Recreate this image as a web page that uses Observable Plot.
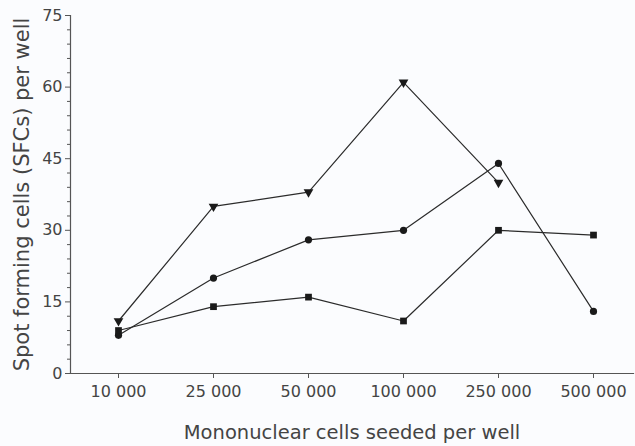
<!DOCTYPE html>
<html>
<head>
<meta charset="utf-8">
<script src="https://cdn.jsdelivr.net/npm/d3@7"></script>
<script src="https://cdn.jsdelivr.net/npm/@observablehq/plot@0.6"></script>
<style>
  html, body { margin: 0; padding: 0; background: #fbfcfe; }
</style>
</head>
<body>
<div id="chart"></div>
<script>
const categories = ["10 000", "25 000", "50 000", "100 000", "250 000", "500 000"];
const triangleValues = [11, 35, 38, 61, 40, null];
const circleValues = [8, 20, 28, 30, 44, 13];
const squareValues = [9, 14, 16, 11, 30, 29];
const majorTicks = [0, 15, 30, 45, 60, 75];
const xLabel = "Mononuclear cells seeded per well";
const yLabel = "Spot forming cells (SFCs) per well";

function rows(values, series) {
  return categories.map((c, i) => ({cat: c, v: values[i], series})).filter(d => d.v != null);
}
const tri = rows(triangleValues, "triangle");
const cir = rows(circleValues, "circle");
const sq = rows(squareValues, "square");
const minorTicks = d3.range(0, 76, 3).filter(t => !majorTicks.includes(t));

const ink = "#2b2b2b";
const axisInk = "#555";
const chart = Plot.plot({
  width: 635,
  height: 446,
  marginLeft: 70,
  marginTop: 15,
  marginBottom: 73,
  marginRight: 2,
  style: {background: "#fbfcfe", fontFamily: "DejaVu Sans, Verdana, sans-serif", fontSize: "16px", color: "#333"},
  x: {type: "point", domain: categories, range: [117, 593], padding: 0},
  y: {domain: [0, 75]},
  marks: [
    Plot.axisY(minorTicks, {tickSize: 3, text: null, label: null, stroke: axisInk}),
    Plot.axisY(majorTicks, {tickSize: 5, tickPadding: 3, fontSize: 16, stroke: axisInk, fill: "#444",
      label: null}),
    Plot.axisY({ticks: [], label: yLabel, labelAnchor: "center", labelArrow: "none", labelOffset: 56,
      fontSize: 21, fill: "#444"}),
    Plot.axisX({tickSize: 5, tickPadding: 7, fontSize: 16, stroke: axisInk, fill: "#444", label: null}),
    Plot.axisX({ticks: [], label: xLabel, labelAnchor: "center", labelArrow: "none", labelOffset: 65,
      fontSize: 19.5, fill: "#444"}),
    Plot.frame({anchor: "left", stroke: axisInk, strokeWidth: 1.2}),
    Plot.frame({anchor: "bottom", stroke: axisInk, strokeWidth: 1.2}),
    Plot.line(tri, {x: "cat", y: "v", stroke: ink, strokeWidth: 1.2}),
    Plot.line(cir, {x: "cat", y: "v", stroke: ink, strokeWidth: 1.2}),
    Plot.line(sq, {x: "cat", y: "v", stroke: ink, strokeWidth: 1.2}),
    Plot.dot(tri, {x: "cat", y: "v", symbol: "triangle", rotate: 180, r: 3.6, fill: "#1a1a1a", stroke: "none"}),
    Plot.dot(cir, {x: "cat", y: "v", symbol: "circle", r: 3.6, fill: "#1a1a1a", stroke: "none"}),
    Plot.dot(sq, {x: "cat", y: "v", symbol: "square", r: 3.8, fill: "#1a1a1a", stroke: "none"})
  ]
});
document.getElementById("chart").appendChild(chart);
</script>
</body>
</html>
